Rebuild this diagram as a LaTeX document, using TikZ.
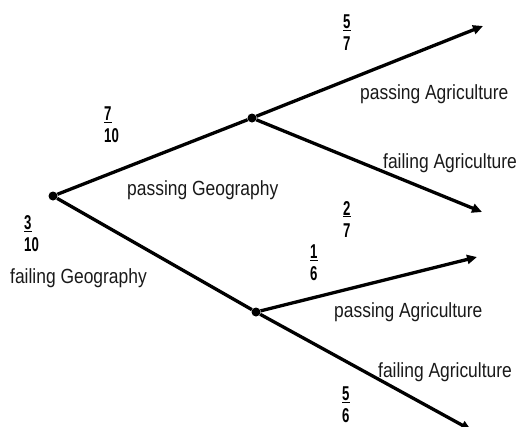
\documentclass[tikz,border=0pt]{standalone}
\usepackage{fontspec}
\setmainfont{Liberation Sans}[FakeStretch=0.85]
\newfontfamily\fracfont{Liberation Sans}[FakeStretch=0.66]
\usetikzlibrary{arrows.meta}
\begin{document}
\begin{tikzpicture}[x=1pt,y=-1pt,
  branch/.style={line width=3.3pt, black},
  arr/.style={branch, -{Triangle[length=10pt,width=9pt]}},
  dot/.style={circle, fill=black, inner sep=0pt, minimum size=9pt},
  lbl/.style={font=\fontsize{20.5}{24}\selectfont, text=black!90, inner sep=0pt, anchor=base west},
  frac/.style={font=\fracfont\bfseries\fontsize{20}{22}\selectfont, align=left, inner sep=0pt, anchor=north west}]
\clip (0,0) rectangle (517,426);
% nodes of the tree
\node[dot] (r) at (53,196) {};
\node[dot] (p) at (252,118) {};
\node[dot] (f) at (256,312) {};
\coordinate (pp) at (483,26);
\coordinate (pf) at (482,212);
\coordinate (fp) at (477,257);
\coordinate (ff) at (471,430);
% branches
\draw[branch] (r) -- (p);
\draw[branch] (r) -- (f);
\draw[arr] (p) -- (pp);
\draw[arr] (p) -- (pf);
\draw[arr] (f) -- (fp);
\draw[arr] (f) -- (ff);
% probabilities
\node[frac] (q710) at (104,107) {\underline{7}\\10};
\node[frac] (q310) at (24,215) {\underline{3}\\10};
\node[frac] (q57) at (343,15) {\underline{5}\\7};
\node[frac] (q27) at (343,201) {\underline{2}\\7};
\node[frac] (q16) at (310,245) {\underline{1}\\6};
\node[frac] (q56) at (342,387) {\underline{5}\\6};
% labels
\node[lbl] (lpg) at (127,195) {passing Geography};
\node[lbl] (lfg) at (10,283) {failing Geography};
\node[lbl] (lpa1) at (360,99) {passing Agriculture};
\node[lbl] (lfa1) at (383,168) {failing Agriculture};
\node[lbl] (lpa2) at (334,317) {passing Agriculture};
\node[lbl] (lfa2) at (378,377) {failing Agriculture};
\end{tikzpicture}
\end{document}
